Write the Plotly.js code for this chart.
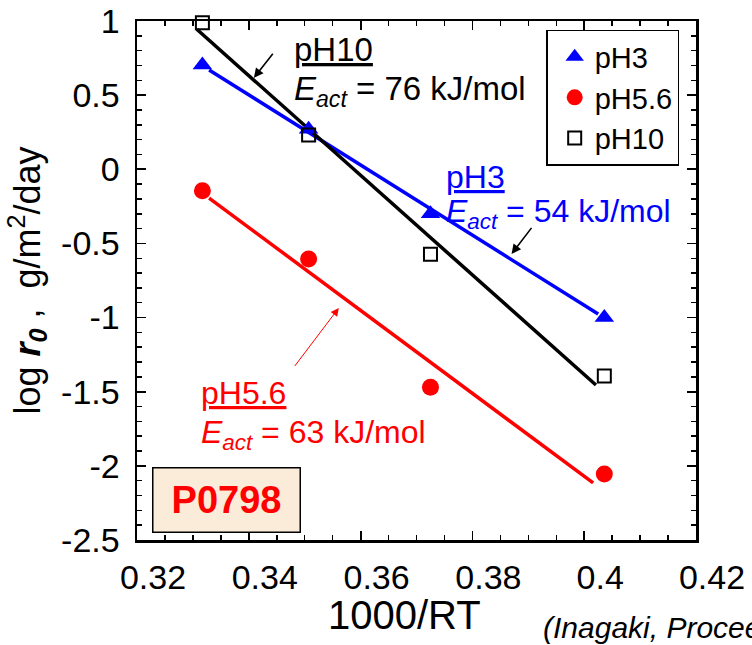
<!DOCTYPE html>
<html>
<head>
<meta charset="utf-8">
<script src="https://cdn.plot.ly/plotly-3.0.1.min.js"></script>
<style>html,body{margin:0;padding:0;background:#fff;}#chart{width:752px;height:645px;}</style>
</head>
<body>
<div id="chart"></div>
<script>
// ---- data ----
const invT = [0.3317, 0.3507, 0.3725, 0.4036];      // 1000/RT
const pH3 = [0.703, 0.270, -0.300, -1.000];           // log r0
const pH56 = [-0.144, -0.605, -1.470, -2.055];
const pH10 = [0.989, 0.231, -0.573, -1.394];
// fitted lines (end points)
const fit3X = [0.3329, 0.4025],  fit3Y = [0.670, -0.976];
const fit56X = [0.3329, 0.4016], fit56Y = [-0.194, -2.115];
const fit10X = [0.3307, 0.4021], fit10Y = [0.944, -1.455];
const xTickVals = [0.32, 0.34, 0.36, 0.38, 0.40, 0.42];
const xTickText = ['0.32', '0.34', '0.36', '0.38', '0.4', '0.42'];
const yTickVals = [-2.5, -2, -1.5, -1, -0.5, 0, 0.5, 1];
const yTickText = ['-2.5', '-2', '-1.5', '-1', '-0.5', '0', '0.5', '1'];

const FONT = 'Arial, "Liberation Sans", sans-serif';
const BLUE = '#0000ff', RED = '#ff0000', BLACK = '#000000';

const traces = [
  {x: fit3X, y: fit3Y, mode: 'lines', line: {color: BLUE, width: 3.5}, showlegend: false, hoverinfo: 'skip'},
  {x: fit56X, y: fit56Y, mode: 'lines', line: {color: RED, width: 3.5}, showlegend: false, hoverinfo: 'skip'},
  {x: fit10X, y: fit10Y, mode: 'lines', line: {color: BLACK, width: 3.5}, showlegend: false, hoverinfo: 'skip'},
  {x: invT, y: pH3, mode: 'markers', name: 'pH3', cliponaxis: false,
   marker: {symbol: 'triangle-up', size: 17, color: BLUE}},
  {x: invT, y: pH56, mode: 'markers', name: 'pH5.6', cliponaxis: false,
   marker: {symbol: 'circle', size: 17, color: RED}},
  {x: invT, y: pH10, mode: 'markers', name: 'pH10', cliponaxis: false,
   marker: {symbol: 'square-open', size: 13, color: BLACK, line: {width: 2, color: BLACK}}}
];

const axisCommon = {
  showgrid: false, zeroline: false, showline: true, linecolor: BLACK, linewidth: 2.5,
  mirror: 'allticks', ticks: 'inside', ticklen: 9, tickwidth: 1.8, tickcolor: BLACK,
  automargin: false, tickfont: {family: FONT, size: 34, color: BLACK}
};

const txt = (x, y, text, color, size) => ({
  xref: 'paper', yref: 'paper', x: x, y: y, xanchor: 'left', yanchor: 'middle', align: 'left',
  showarrow: false, text: text, font: {family: FONT, size: size || 32, color: color}
});

const layout = {
  width: 752, height: 645,
  margin: {l: 137, r: 56, t: 21, b: 105},
  paper_bgcolor: '#ffffff', plot_bgcolor: '#ffffff',
  font: {family: FONT, color: BLACK},
  xaxis: Object.assign({}, axisCommon, {
    range: [0.32, 0.42], tickmode: 'array', tickvals: xTickVals, ticktext: xTickText,
    ticklabelshift: 16, ticklabelstandoff: 6,
    minor: {dtick: 0.005, ticks: 'inside', ticklen: 5, tickwidth: 1.5, tickcolor: BLACK},
    title: {text: ''}
  }),
  yaxis: Object.assign({}, axisCommon, {
    range: [-2.5, 1], tickmode: 'array', tickvals: yTickVals, ticktext: yTickText,
    ticklabelstandoff: 8,
    minor: {dtick: 0.1, ticks: 'inside', ticklen: 5, tickwidth: 1.5, tickcolor: BLACK},
    title: {text: 'log <b><i>r</i></b><sub><b><i>0</i></b></sub> ,  g/m<sup>2</sup>/day',
            font: {family: FONT, size: 36, color: BLACK}, standoff: 10}
  }),
  legend: {
    x: 0.732, y: 0.983, xanchor: 'left', yanchor: 'top',
    bordercolor: BLACK, borderwidth: 1.5, bgcolor: '#ffffff', indentation: 7,
    font: {family: FONT, size: 29, color: BLACK}, itemwidth: 30, tracegroupgap: 0
  },
  annotations: [
    // x-axis title
    {xref: 'paper', yref: 'paper', x: 0.479, y: -0.1445, xanchor: 'center', yanchor: 'middle',
     showarrow: false, text: '1000/RT', font: {family: FONT, size: 40, color: BLACK}},
    txt(0.2773, 0.946, '<u>pH10</u>', BLACK, 33),
    txt(0.2773, 0.865, '<i>E</i><sub><i>act</i></sub> = 76 kJ/mol', BLACK, 33),
    txt(0.549, 0.699, '<u>pH3</u>', BLUE),
    txt(0.549, 0.630, '<i>E</i><sub><i>act</i></sub> = 54 kJ/mol', BLUE),
    txt(0.1118, 0.2833, '<u>pH5.6</u>', RED),
    txt(0.1118, 0.2042, '<i>E</i><sub><i>act</i></sub> = 63 kJ/mol', RED),
    // arrows
    {xref: 'x', yref: 'y', x: 0.3409, y: 0.616, ax: 22, ay: -28, showarrow: true, text: ' ',
     arrowhead: 2, arrowsize: 1.2, arrowwidth: 1.6, arrowcolor: BLACK},
    {xref: 'x', yref: 'y', x: 0.3870, y: -0.571, ax: 23, ay: -30, showarrow: true, text: ' ',
     arrowhead: 2, arrowsize: 1.2, arrowwidth: 1.6, arrowcolor: BLACK},
    {xref: 'x', yref: 'y', x: 0.3561, y: -0.935, ax: -47, ay: 62, showarrow: true, text: ' ',
     arrowhead: 2, arrowsize: 1.6, arrowwidth: 1, arrowcolor: RED},
    // P0798 box
    {xref: 'paper', yref: 'paper', x: 0.1605, y: 0.0765, xanchor: 'center', yanchor: 'middle',
     showarrow: false, text: '<b>P0798</b>', font: {family: FONT, size: 38, color: RED},
     bgcolor: '#fbebd9', bordercolor: BLACK, borderwidth: 1.5, width: 144, height: 61},
    // citation (cut off at the right edge, as in the reference)
    {xref: 'paper', yref: 'paper', x: 0.7227, y: -0.168, xanchor: 'left', yanchor: 'middle',
     showarrow: false, text: '<i>(Inagaki, Proceedings)</i>', font: {family: FONT, size: 30, color: BLACK}}
  ]
};

Plotly.newPlot('chart', traces, layout, {displayModeBar: false, staticPlot: true});
</script>
</body>
</html>
